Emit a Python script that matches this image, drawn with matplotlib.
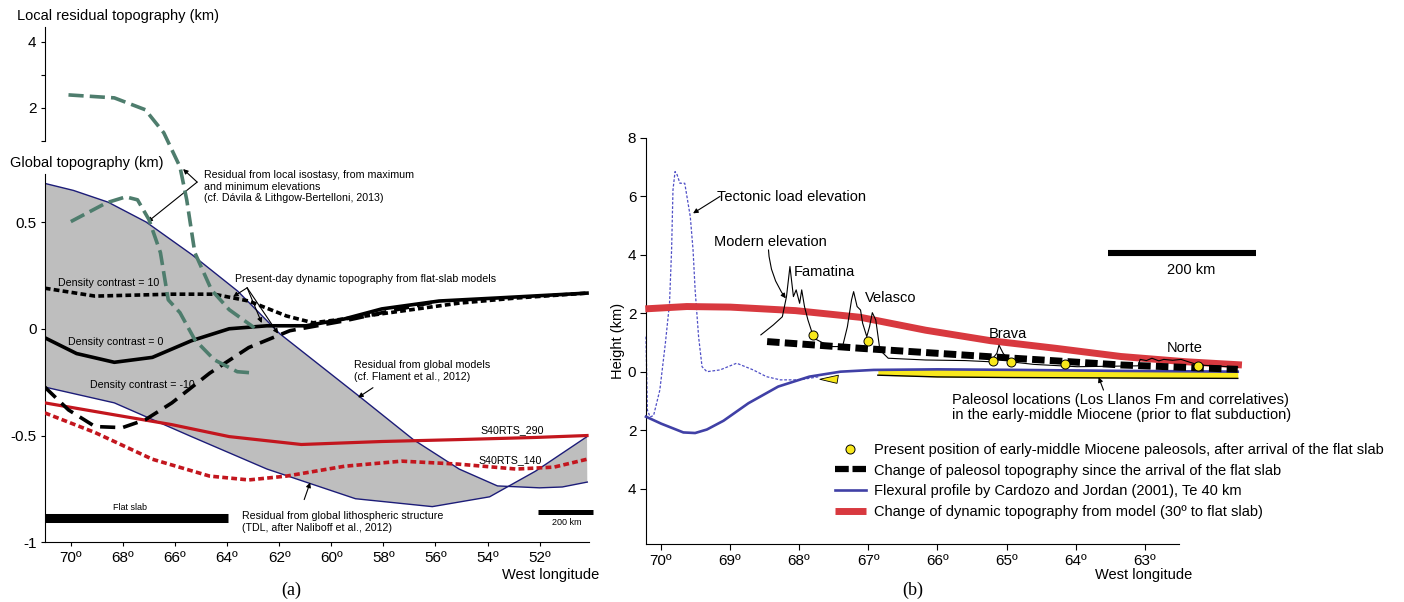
import numpy as np
import matplotlib
matplotlib.use('Agg')
import matplotlib.pyplot as plt
from matplotlib.lines import Line2D

plt.rcParams['font.family'] = ['Liberation Sans', 'DejaVu Sans']
NARROW = ['Liberation Sans Narrow', 'Liberation Sans', 'DejaVu Sans']
SERIF = ['Liberation Serif', 'DejaVu Serif']

# ---------------- panel (a): West longitude (deg) / topography (km) ----------------
# residual from global models (upper edge of grey band)
glob_lon = [70.97, 69.9, 68.57, 67.11, 65.35, 63.59, 61.98, 58.9, 56.85, 55.09, 53.62, 52.0, 51.13, 50.17]
glob_top = [0.68, 0.648, 0.593, 0.5, 0.347, 0.176, -0.023, -0.319, -0.519, -0.657, -0.736, -0.745, -0.741, -0.718]
# residual from global lithospheric structure (lower edge)
lith_lon = [71.0, 68.33, 65.37, 62.47, 59.07, 56.12, 53.92, 52.16, 50.18]
lith_top = [-0.273, -0.347, -0.505, -0.657, -0.796, -0.833, -0.787, -0.667, -0.505]

dc10_lon = [71.0, 69.07, 66.12, 64.5, 63.17, 61.72, 60.7, 59.5, 57.3, 55.1, 52.9, 50.18]
dc10 = [0.19, 0.153, 0.162, 0.162, 0.13, 0.06, 0.028, 0.046, 0.083, 0.12, 0.144, 0.167]
dc0_lon = [71.0, 69.78, 68.33, 66.87, 65.37, 63.92, 62.47, 60.97, 59.5, 58.06, 55.86, 53.66, 50.18]
dc0 = [-0.042, -0.116, -0.157, -0.134, -0.056, 0.0, 0.014, 0.014, 0.046, 0.093, 0.13, 0.144, 0.167]
dcm10_lon = [71.0, 70.09, 69.07, 68.02, 67.14, 66.12, 64.67, 63.17, 61.59, 59.5, 57.75, 55.86]
dcm10 = [-0.273, -0.38, -0.458, -0.463, -0.426, -0.347, -0.208, -0.088, -0.009, 0.037, 0.083, 0.13]

s290_lon = [71.0, 68.33, 66.12, 63.92, 61.15, 58.06, 55.11, 52.16, 50.18]
s290 = [-0.347, -0.403, -0.449, -0.505, -0.542, -0.528, -0.519, -0.509, -0.5]
s140_lon = [71.0, 69.07, 66.87, 64.67, 63.17, 61.72, 59.5, 57.3, 55.11, 52.9, 51.45, 50.18]
s140 = [-0.394, -0.486, -0.611, -0.69, -0.708, -0.69, -0.644, -0.62, -0.634, -0.657, -0.648, -0.611]

# local isostasy residuals (local residual topography axis)
loc_max_lon = [70.09, 68.33, 67.14, 66.43, 65.81, 65.55, 65.24, 64.6, 63.92, 62.95]
loc_max = [2.39, 2.30, 1.94, 1.24, 0.21, -0.79, -2.39, -3.52, -4.12, -4.67]
loc_min_lon = [70.0, 68.63, 67.89, 67.44, 67.0, 66.56, 66.26, 65.81, 65.24, 64.49, 63.61, 63.13]
loc_min = [-1.45, -0.88, -0.70, -0.79, -1.39, -2.39, -3.82, -4.21, -5.03, -5.64, -6.0, -6.03]

lon_ticks_a = [70, 68, 66, 64, 62, 60, 58, 56, 54, 52]

# ---------------- panel (b): West longitude (deg) / height (km) ----------------
dyn_lon = [70.22, 69.62, 68.99, 68.05, 67.11, 66.17, 65.23, 64.29, 63.35, 62.41, 61.6]
dyn = [2.15, 2.23, 2.21, 2.09, 1.86, 1.42, 1.06, 0.80, 0.52, 0.34, 0.23]
paleo_lon = [68.46, 67.11, 65.23, 63.35, 61.66]
paleo_chg = [1.03, 0.80, 0.51, 0.23, 0.08]
flex_lon = [70.21, 69.99, 69.67, 69.5, 69.33, 69.09, 68.73, 68.3, 67.85, 67.4, 66.92, 66.0, 64.8, 63.5, 61.66]
flex = [-1.54, -1.78, -2.08, -2.1, -1.98, -1.68, -1.08, -0.51, -0.17, 0.0, 0.06, 0.08, 0.06, 0.03, 0.0]
tect_lon = [70.21, 70.19, 70.15, 70.10, 70.01, 69.93, 69.87, 69.84, 69.82, 69.79, 69.76, 69.72, 69.65,
            69.57, 69.53, 69.50, 69.45, 69.40, 69.33, 69.14, 68.90, 68.66, 68.47, 68.27, 67.99, 67.70]
tect = [1.2, -1.31, -1.55, -1.5, -0.63, 0.97, 2.34, 4.17, 6.22, 6.85, 6.74, 6.45, 6.45,
        5.31, 4.17, 2.8, 1.2, 0.17, 0.0, 0.06, 0.29, 0.06, -0.17, -0.28, -0.28, -0.17]
elev_lon = [68.55, 68.37, 68.24, 68.18, 68.13, 68.08, 68.04, 67.99, 67.96, 67.92, 67.87, 67.8, 67.74,
            67.55, 67.37, 67.3, 67.24, 67.21, 67.16, 67.11, 67.08, 67.02, 66.98, 66.94, 66.89, 66.83,
            66.71, 66.17, 65.6, 65.24, 65.14, 65.11, 65.05, 64.95, 64.61, 63.98, 63.1, 63.07, 62.98,
            62.9, 62.8, 62.73, 62.6, 62.48, 62.23, 61.66]
elev = [1.26, 1.6, 1.88, 2.57, 3.6, 2.57, 2.8, 2.34, 2.8, 2.23, 1.77, 1.26, 1.09,
        0.86, 0.86, 1.54, 2.46, 2.74, 2.23, 2.11, 1.66, 1.2, 1.54, 2.02, 1.77, 0.74,
        0.46, 0.4, 0.38, 0.34, 0.63, 0.91, 0.63, 0.34, 0.25, 0.17, 0.2, 0.42, 0.38,
        0.46, 0.37, 0.42, 0.39, 0.42, 0.23, 0.15]
soil_lon = [67.8, 67.0, 65.2, 64.93, 64.16, 62.23]
soil = [1.26, 1.05, 0.37, 0.34, 0.25, 0.2]
band_lon = [66.86, 66.0, 65.0, 64.0, 63.0, 61.66]
band_top = [0.06, 0.08, 0.06, 0.04, 0.02, 0.0]
band_bot = [-0.12, -0.18, -0.2, -0.21, -0.22, -0.23]
wedge_lon = [67.70, 67.43, 67.45]
wedge = [-0.26, -0.12, -0.40]

lon_ticks_b = [70, 69, 68, 67, 66, 65, 64, 63]
h_ticks = [-4, -2, 0, 2, 4, 6, 8]

NAVY = '#1c1c78'
GREY = '#bebebe'
GREEN = '#4e7d6d'
DRED = '#c3161e'
RED = '#d8393f'
BLUE = '#4040a6'
TBLUE = '#4f4fc6'
YEL = '#f8e81c'

fig = plt.figure(figsize=(14.04, 6.02), dpi=100)

# ======================= (a) =======================
ax1 = fig.add_axes([0.0319, 0.0992, 0.3877, 0.6118])
ax1.set_xlim(71.0, 50.1)
ax1.set_ylim(-1.0, 0.725)
ax1.fill(glob_lon + lith_lon[::-1], glob_top + lith_top[::-1], color=GREY, lw=0, zorder=1)
ax1.plot(glob_lon, glob_top, color=NAVY, lw=1.0, zorder=2)
ax1.plot(lith_lon, lith_top, color=NAVY, lw=1.0, zorder=2)
ax1.plot(s290_lon, s290, color=DRED, lw=2.3, zorder=3)
ax1.plot(s140_lon, s140, color=DRED, lw=2.6, dashes=(1.6, 0.9), zorder=3)
ax1.plot(dc10_lon, dc10, color='k', lw=2.6, dashes=(1.6, 0.9), zorder=4)
ax1.plot(dc0_lon, dc0, color='k', lw=2.6, zorder=4)
ax1.plot(dcm10_lon, dcm10, color='k', lw=2.6, dashes=(4.2, 2.2), zorder=4)

# flat slab and scale bar
ax1.plot([71.0, 63.95], [-0.886, -0.886], color='k', lw=6.5, solid_capstyle='butt', clip_on=False)
ax1.plot([52.08, 49.97], [-0.86, -0.86], color='k', lw=3.6, solid_capstyle='butt', clip_on=False)
ax1.text(67.73, -0.838, 'Flat slab', fontsize=6.5, family=NARROW, ha='center', va='center')
ax1.text(50.97, -0.908, '200 km', fontsize=6.5, family=NARROW, ha='center', va='center')

for s in ['top', 'right']:
    ax1.spines[s].set_visible(False)
ax1.set_yticks([-1, -0.5, 0, 0.5])
ax1.set_yticklabels(['-1', '-0.5', '0', '0.5'])
ax1.set_xticks(lon_ticks_a)
ax1.set_xticklabels(['%d\u00ba' % v for v in lon_ticks_a])
ax1.tick_params(labelsize=11, length=3, width=0.8, direction='out', pad=3)

txt = dict(fontsize=7.7, family=NARROW, va='center')
ax1.text(64.88, 0.665, 'Residual from local isostasy, from maximum\nand minimum elevations\n'
         '(cf. D\u00e1vila & Lithgow-Bertelloni, 2013)', linespacing=1.2, **txt)
ax1.text(63.68, 0.232, 'Present-day dynamic topography from flat-slab models', **txt)
ax1.text(70.48, 0.216, 'Density contrast = 10', **txt)
ax1.text(70.1, -0.062, 'Density contrast = 0', **txt)
ax1.text(69.27, -0.265, 'Density contrast = -10', **txt)
ax1.text(59.12, -0.198, 'Residual from global models\n(cf. Flament et al., 2012)', linespacing=1.2, **txt)
ax1.text(54.27, -0.475, 'S40RTS_290', **txt)
ax1.text(54.33, -0.617, 'S40RTS_140', **txt)
ax1.text(63.42, -0.905, 'Residual from global lithospheric structure\n(TDL, after Naliboff et al., 2012)',
         linespacing=1.2, **txt)

arw = dict(arrowstyle='-|>', color='k', lw=0.8, mutation_scale=7, shrinkA=0, shrinkB=0)
for tip in [(65.69, 0.748), (67.06, 0.5)]:
    ax1.annotate('', xy=tip, xytext=(65.15, 0.687), arrowprops=arw, annotation_clip=False)
for tip in [(63.77, 0.15), (62.67, 0.027), (62.04, -0.023)]:
    ax1.annotate('', xy=tip, xytext=(63.23, 0.192), arrowprops=arw, annotation_clip=False)
ax1.annotate('', xy=(58.97, -0.322), xytext=(58.4, -0.276), arrowprops=arw)
ax1.annotate('', xy=(60.81, -0.72), xytext=(61.04, -0.8), arrowprops=arw)

# local residual axis (upper broken scale) overlay
ax0 = fig.add_axes([0.0319, 0.0992, 0.3877, 0.8555])
ax0.patch.set_visible(False)
ax0.set_xlim(71.0, 50.1)
ax0.set_ylim(-11.17, 4.44)
ax0.plot(loc_max_lon, loc_max, color=GREEN, lw=2.6, dashes=(4.2, 1.7), clip_on=False)
ax0.plot(loc_min_lon, loc_min, color=GREEN, lw=2.6, dashes=(4.2, 1.7), clip_on=False)
for s in ['top', 'right', 'bottom']:
    ax0.spines[s].set_visible(False)
ax0.spines['left'].set_bounds(0.98, 4.44)
ax0.set_xticks([])
ax0.set_yticks([1, 2, 3, 4])
ax0.set_yticklabels(['', '2', '', '4'])
ax0.tick_params(labelsize=11, length=3, width=0.8, pad=3)

fig.text(17 / 1404, 1 - 16 / 602, 'Local residual topography (km)', fontsize=10.5, va='center')
fig.text(9.6 / 1404, 1 - 163 / 602, 'Global topography (km)', fontsize=10.5, va='center')
fig.text(599 / 1404, 1 - 575 / 602, 'West longitude', fontsize=10.5, ha='right', va='center')
fig.text(291 / 1404, 1 - 590 / 602, '(a)', fontsize=13, family=SERIF, ha='center', va='center')

# ======================= (b) =======================
ax2 = fig.add_axes([0.4601, 0.0963, 0.3796, 0.6745])
ax2.set_xlim(70.21, 62.51)
ax2.set_ylim(-5.9, 8.0)
ax2.plot(tect_lon, tect, color=TBLUE, lw=0.9, dashes=(2.2, 1.4), clip_on=False, zorder=2)
ax2.fill_between(band_lon, band_bot, band_top, color=YEL, lw=0, zorder=2, clip_on=False)
ax2.plot(band_lon, band_bot, color='k', lw=1.0, zorder=3, clip_on=False)
ax2.fill(wedge_lon, wedge, facecolor=YEL, edgecolor='k', lw=0.6, zorder=3)
ax2.plot(flex_lon, flex, color=BLUE, lw=1.9, zorder=4, clip_on=False)
ax2.plot(dyn_lon, dyn, color=RED, lw=5.0, solid_capstyle='butt', zorder=3, clip_on=False)
ax2.plot(elev_lon, elev, color='k', lw=0.8, zorder=5, clip_on=False)
ax2.plot(paleo_lon, paleo_chg, color='k', lw=5.0, dashes=(1.8, 0.75), zorder=4, clip_on=False)
ax2.plot(soil_lon, soil, 'o', ms=6.5, mfc=YEL, mec='k', mew=0.7, zorder=6, clip_on=False)

# scale bar
ax2.plot([63.54, 61.4], [4.05, 4.05], color='k', lw=4.4, solid_capstyle='butt', clip_on=False)
ax2.text(62.34, 3.48, '200 km', fontsize=10.5, ha='center', va='center')

for s in ['top', 'right']:
    ax2.spines[s].set_visible(False)
ax2.set_yticks(h_ticks)
ax2.set_yticklabels([str(abs(v)) for v in h_ticks])
ax2.set_xticks(lon_ticks_b)
ax2.set_xticklabels(['%d\u00ba' % v for v in lon_ticks_b])
ax2.tick_params(labelsize=11, length=4, width=0.8, direction='out', pad=3)
ax2.set_ylabel('Height (km)', fontsize=10.5, labelpad=2)

tb = dict(fontsize=10.5, va='center')
ax2.text(69.18, 5.98, 'Tectonic load elevation', **tb)
ax2.text(69.23, 4.43, 'Modern elevation', **tb)
ax2.text(68.07, 3.42, 'Famatina', **tb)
ax2.text(67.05, 2.51, 'Velasco', **tb)
ax2.text(65.26, 1.29, 'Brava', **tb)
ax2.text(62.69, 0.80, 'Norte', **tb)
ax2.text(65.79, -1.23, 'Paleosol locations (Los Llanos Fm and correlatives)\n'
         'in the early-middle Miocene (prior to flat subduction)', linespacing=1.1, **tb)

ax2.annotate('', xy=(69.53, 5.42), xytext=(69.14, 6.0), arrowprops=arw)
ax2.annotate('', xy=(68.19, 2.51), xytext=(68.44, 4.17),
             arrowprops=dict(arw, connectionstyle='arc3,rad=0.15'))
ax2.annotate('', xy=(63.67, -0.19), xytext=(63.6, -0.63), arrowprops=arw)

handles = [
    Line2D([], [], ls='none', marker='o', ms=6.5, mfc=YEL, mec='k', mew=0.7),
    Line2D([], [], color='k', lw=4.5, dashes=(2.2, 0.6)),
    Line2D([], [], color=BLUE, lw=1.9),
    Line2D([], [], color=RED, lw=5.0, solid_capstyle='butt'),
]
labels = [
    'Present position of early-middle Miocene paleosols, after arrival of the flat slab',
    'Change of paleosol topography since the arrival of the flat slab',
    'Flexural profile by Cardozo and Jordan (2001), Te 40 km',
    'Change of dynamic topography from model (30\u00ba to flat slab)',
]
fig.legend(handles, labels, loc='upper left', bbox_to_anchor=(835 / 1404, 1 - 443 / 602),
           frameon=False, fontsize=10.5, handlelength=2.1, handletextpad=0.55,
           labelspacing=0.45, borderpad=0, borderaxespad=0)

fig.text(1192 / 1404, 1 - 575 / 602, 'West longitude', fontsize=10.5, ha='right', va='center')
fig.text(913 / 1404, 1 - 590 / 602, '(b)', fontsize=13, family=SERIF, ha='center', va='center')

fig.savefig('out.png', dpi=100)
